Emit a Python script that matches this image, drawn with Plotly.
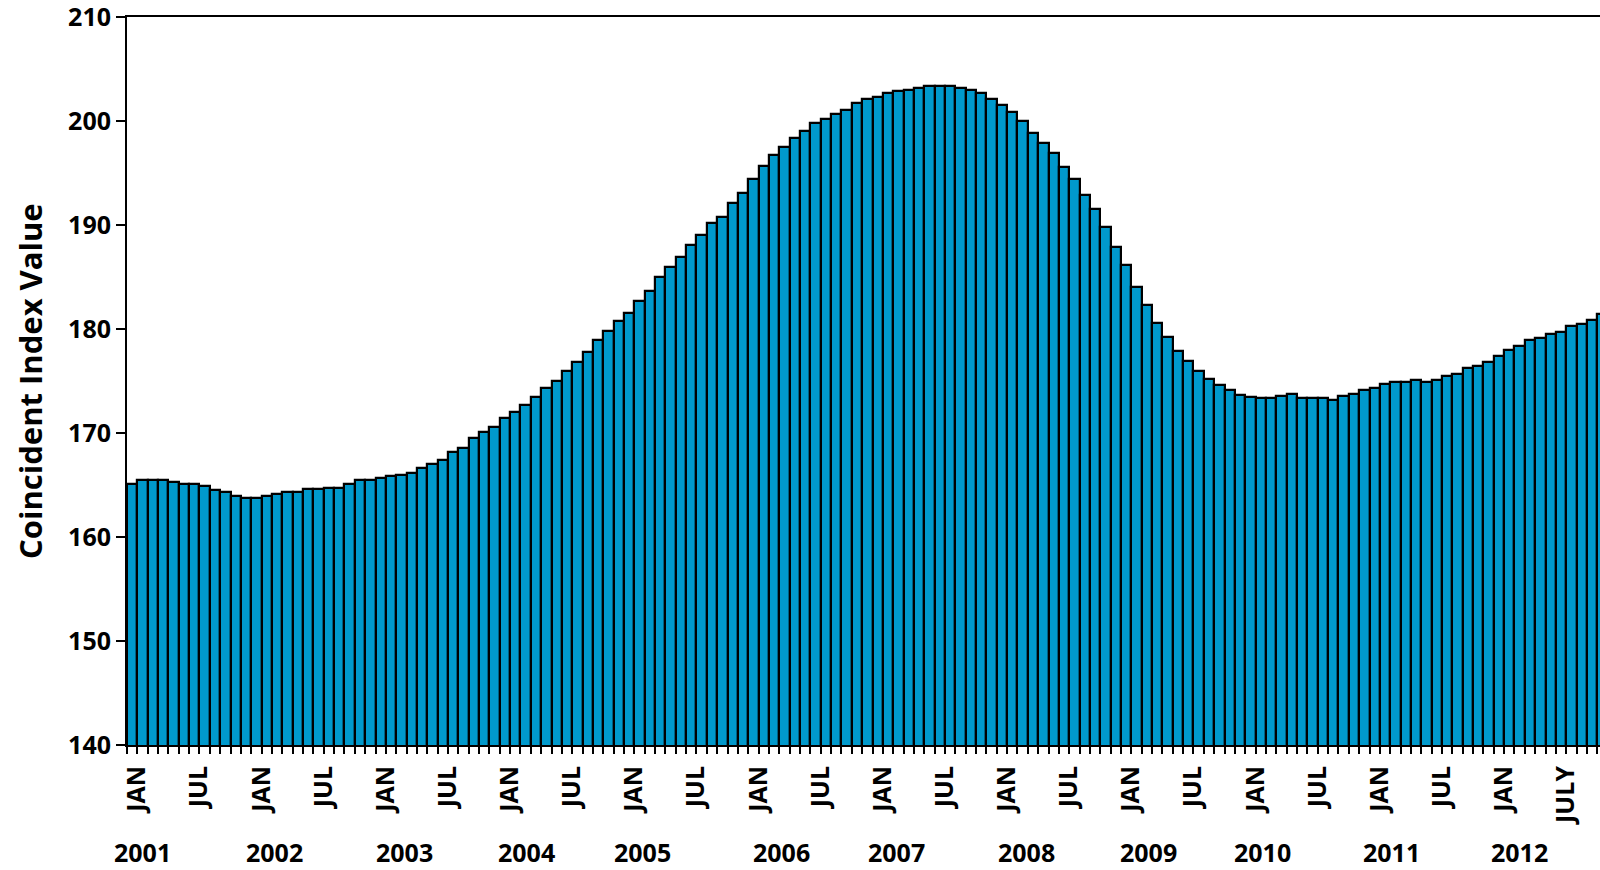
import plotly.graph_objects as go

# Monthly coincident index values, Jan 2001 onward
months = list(range(143))
values = [
    165.1, 165.5, 165.5, 165.5, 165.3, 165.1, 165.1, 164.9, 164.5, 164.3, 163.9, 163.75,
    163.75, 163.9, 164.1, 164.3, 164.3, 164.6, 164.6, 164.7, 164.7, 165.1, 165.5, 165.5,
    165.7, 165.9, 166.0, 166.2, 166.6, 167.0, 167.4, 168.2, 168.55, 169.5, 170.1, 170.6,
    171.4, 172.0, 172.7, 173.5, 174.3, 175.0, 176.0, 176.8, 177.75, 178.9, 179.8, 180.8,
    181.55, 182.7, 183.7, 185.0, 186.0, 186.9, 188.1, 189.0, 190.2, 190.8, 192.1, 193.1,
    194.4, 195.7, 196.7, 197.5, 198.4, 199.0, 199.8, 200.15, 200.7, 201.1, 201.7, 202.1,
    202.3, 202.65, 202.85, 203.0, 203.2, 203.4, 203.4, 203.4, 203.2, 203.0, 202.65, 202.1,
    201.5, 200.9, 200.0, 198.8, 197.85, 196.9, 195.55, 194.4, 192.9, 191.5, 189.8, 187.9,
    186.15, 184.0, 182.3, 180.6, 179.25, 177.9, 176.95, 176.0, 175.2, 174.65, 174.1, 173.7,
    173.5, 173.35, 173.35, 173.55, 173.75, 173.35, 173.35, 173.35, 173.2, 173.55, 173.75, 174.15,
    174.35, 174.7, 174.9, 174.9, 175.1, 174.9, 175.1, 175.5, 175.7, 176.25, 176.45, 176.8,
    177.4, 178.0, 178.35, 178.95, 179.15, 179.5, 179.7, 180.3, 180.5, 180.85, 181.45,
]

month_tick_vals = list(range(0, 139, 6))
month_tick_text = ["JAN", "JUL"] * 11 + ["JAN", "JULY"]

years = ["2001", "2002", "2003", "2004", "2005", "2006",
         "2007", "2008", "2009", "2010", "2011", "2012"]
year_label_x = [1.04, 13.7, 26.3, 38.1, 49.3, 62.7, 73.8, 86.4, 98.2, 109.2, 121.6, 134.0]

y_ticks = [140, 150, 160, 170, 180, 190, 200, 210]

FONT = "Open Sans"
fig = go.Figure()
fig.add_trace(go.Bar(
    x=months, y=values,
    marker=dict(color="#0099CC", line=dict(color="black", width=2.2)),
    width=1.0,
))

for yr, xp in zip(years, year_label_x):
    fig.add_annotation(x=xp, y=-0.147, xref="x", yref="paper", text=yr,
                       showarrow=False, xanchor="center", yanchor="middle",
                       font=dict(family=FONT, size=25, color="black", weight="bold"))

fig.add_annotation(x=-0.0659, y=0.5, xref="paper", yref="paper",
                   text="Coincident Index Value", textangle=-90, showarrow=False,
                   xanchor="center", yanchor="middle",
                   font=dict(family=FONT, size=31, color="black", weight="bold"))

fig.update_layout(
    width=1600, height=870,
    margin=dict(l=127, r=0, t=17, b=125, autoexpand=False),
    paper_bgcolor="white", plot_bgcolor="white",
    bargap=0, showlegend=False,
    xaxis=dict(
        range=[-0.5, 141.76], showgrid=False, zeroline=False,
        showline=True, linecolor="black", linewidth=2, mirror=True,
        tickmode="array", tickvals=month_tick_vals, ticktext=month_tick_text,
        tickangle=-90, ticks="", ticklabelstandoff=9, ticklabelshift=5,
        ticklabeloverflow="allow",
        tickfont=dict(family=FONT, size=25, color="black", weight="bold"),
        minor=dict(ticks="outside", tick0=-0.5, dtick=1, ticklen=7,
                   tickwidth=2, tickcolor="black", showgrid=False),
    ),
    yaxis=dict(
        range=[140, 210], showgrid=False, zeroline=False,
        showline=True, linecolor="black", linewidth=2,
        tickmode="array", tickvals=y_ticks, ticklabeloverflow="allow",
        ticks="outside", ticklen=9, tickwidth=2, tickcolor="black",
        tickfont=dict(family=FONT, size=25, color="black", weight="bold"),
    ),
)

fig.write_html("out.html", config={"displayModeBar": False},
               post_script="document.body.style.margin='0px';")
